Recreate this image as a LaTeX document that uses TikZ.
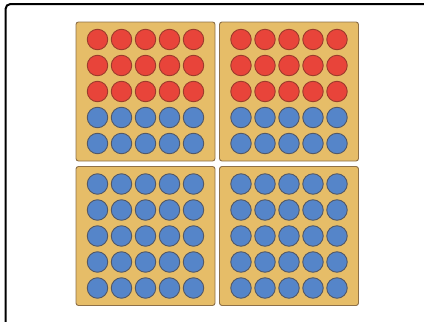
\documentclass[tikz,border=0pt]{standalone}
\definecolor{boardfill}{HTML}{E6BD68}
\definecolor{boardedge}{HTML}{8E7047}
\definecolor{redfill}{HTML}{E8443A}
\definecolor{rededge}{HTML}{9C3B2C}
\definecolor{bluefill}{HTML}{5585C9}
\definecolor{blueedge}{HTML}{525867}
\begin{document}
\begin{tikzpicture}[x=1pt, y=-1pt,
    board/.style={draw=boardedge, fill=boardfill, rounded corners=2.5pt,
      minimum width=139pt, minimum height=139pt, inner sep=0pt, line width=0.9pt},
    redbead/.style={circle, draw=rededge, fill=redfill, minimum size=20.5pt,
      inner sep=0pt, line width=0.9pt},
    bluebead/.style={circle, draw=blueedge, fill=bluefill, minimum size=20.5pt,
      inner sep=0pt, line width=0.9pt},
  ]
    \useasboundingbox (0,0) rectangle (424,322);
    \clip (0,0) rectangle (424,322);
    \draw[line width=2pt, rounded corners=5pt] (5.5,4) rectangle (440,340);

    \node[board] (b1) at (145.5, 91.5) {};
    \node[board] (b2) at (289,   91.5) {};
    \node[board] (b3) at (145.5, 236)  {};
    \node[board] (b4) at (289,   236)  {};

    % beads: the first \nred rows of a board are red, the rest blue
    \foreach \b/\nred in {b1/3, b2/3, b3/0, b4/0} {
      \foreach \r in {1,...,5} {
        \foreach \c in {1,...,5} {
          \ifnum\r>\nred \def\beadstyle{bluebead}\else\def\beadstyle{redbead}\fi
          \node[\beadstyle] (\b-\r-\c) at ([shift={({(\c-3)*24},{(\r-3)*26})}]\b) {};
        }
      }
    }
  \end{tikzpicture}
\end{document}
